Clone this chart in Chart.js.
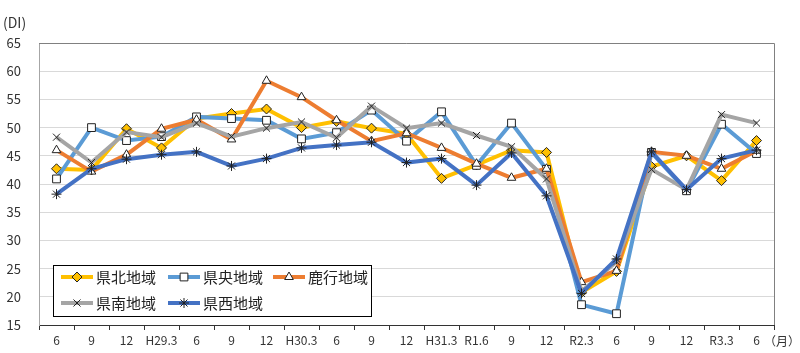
<!DOCTYPE html>
<html>
<head>
<meta charset="utf-8">
<script src="https://cdn.jsdelivr.net/npm/chart.js@4/dist/chart.umd.min.js"></script>
<style>
  html, body { margin: 0; padding: 0; background: #fff; }
  #wrap { width: 800px; height: 353px; }
</style>
</head>
<body>
<div id="wrap"><canvas id="diChart" width="800" height="353"></canvas></div>
<script>
// categories and series (DI)
const labels = ["6", "9", "12", "H29.3", "6", "9", "12", "H30.3", "6", "9", "12", "H31.3", "R1.6", "9", "12", "R2.3", "6", "9", "12", "R3.3", "6"];
const seriesNames = ["県北地域", "県央地域", "鹿行地域", "県南地域", "県西地域"];

const kenpoku = [42.7, 42.5, 49.8, 46.4, 51.6, 52.5, 53.3, 50.0, 51.1, 49.9, 48.9, 41.0, 43.4, 46.0, 45.6, 20.8, 24.5, 43.1, 45.0, 40.6, 47.7];
const kenou   = [40.9, 50.0, 47.7, 48.4, 51.9, 51.6, 51.3, 48.0, 49.1, 53.1, 47.6, 52.8, 43.3, 50.8, 42.6, 18.6, 17.0, 45.6, 38.8, 50.6, 45.4];
const rokkou  = [46.0, 42.2, 45.2, 49.8, 51.4, 47.9, 58.3, 55.4, 51.3, 47.6, 49.0, 46.4, 43.6, 41.1, 42.7, 22.6, 24.6, 45.7, 45.0, 42.7, 45.9];
const kennan  = [48.3, 43.8, 49.2, 48.3, 50.8, 48.4, 49.9, 51.0, 48.2, 53.8, 49.9, 50.8, 48.6, 46.6, 40.9, 21.0, 26.2, 42.6, 39.0, 52.3, 50.8];
const kensei  = [38.2, 42.7, 44.4, 45.2, 45.7, 43.2, 44.5, 46.4, 46.9, 47.4, 43.8, 44.5, 39.8, 45.5, 37.9, 20.6, 26.7, 45.7, 39.0, 44.5, 46.0];

const yTicks = [15, 20, 25, 30, 35, 40, 45, 50, 55, 60, 65];

const colors = ["#FFC000", "#5B9BD5", "#ED7D31", "#A5A5A5", "#4472C4"];
const markers = ["rectRot", "rect", "triangle", "crossRot", "star"];
const markerFill = ["#FFC000", "#ffffff", "#ffffff", "#ffffff", "#ffffff"];
const markerSize = [5, 5.5, 5, 5, 5];
const values = [kenpoku, kenou, rokkou, kennan, kensei];

const FONT = "'Noto Sans CJK JP', 'Noto Sans', sans-serif";

const datasets = values.map((v, i) => ({
  label: seriesNames[i],
  data: v,
  borderColor: colors[i],
  borderWidth: 4,
  pointStyle: markers[i],
  pointRadius: markerSize[i],
  pointBackgroundColor: markerFill[i],
  pointBorderColor: "#222",
  pointBorderWidth: 1,
  tension: 0,
  order: 5 - i,
}));

// border on top/right, unit texts and the boxed legend inside the plot
const extras = {
  id: "extras",
  afterDraw(chart) {
    const ctx = chart.ctx;
    const a = chart.chartArea;
    ctx.save();
    ctx.strokeStyle = "#808080";
    ctx.lineWidth = 1;
    ctx.beginPath();
    ctx.moveTo(a.left, a.top + 0.5);
    ctx.lineTo(a.right + 0.5, a.top + 0.5);
    ctx.lineTo(a.right + 0.5, a.bottom);
    ctx.stroke();

    ctx.fillStyle = "#333";
    ctx.font = "14px " + FONT;
    ctx.textBaseline = "middle";
    ctx.textAlign = "left";
    ctx.fillText("(DI)", 3, 23);
    ctx.font = "12px " + FONT;
    ctx.fillText("（月）", 764, 341);

    // legend
    const bx = 53, by = 265, bw = 318, bh = 51;
    ctx.fillStyle = "#fff";
    ctx.fillRect(bx, by, bw, bh);
    ctx.strokeStyle = "#000";
    ctx.strokeRect(bx + 0.5, by + 0.5, bw, bh);
    const cols = [61, 168, 273];
    const rows = [277, 303];
    chart.data.datasets.forEach((ds, i) => {
      const x = cols[i % 3], y = rows[Math.floor(i / 3)];
      ctx.strokeStyle = ds.borderColor;
      ctx.lineWidth = 4;
      ctx.beginPath();
      ctx.moveTo(x, y);
      ctx.lineTo(x + 32, y);
      ctx.stroke();
      if (Chart.helpers && Chart.helpers.drawPoint) {
        ctx.fillStyle = ds.pointBackgroundColor;
        ctx.strokeStyle = ds.pointBorderColor;
        ctx.lineWidth = 1;
        Chart.helpers.drawPoint(ctx, { pointStyle: ds.pointStyle, radius: ds.pointRadius, rotation: 0, borderWidth: 1 }, x + 16, y);
      }
      ctx.fillStyle = "#222";
      ctx.font = "15px " + FONT;
      ctx.textAlign = "left";
      ctx.fillText(ds.label, x + 35, y);
    });
    ctx.restore();
  },
};

new Chart(document.getElementById("diChart"), {
  type: "line",
  data: { labels: labels, datasets: datasets },
  options: {
    responsive: false,
    animation: false,
    layout: { padding: { left: 0, right: 26, top: 43, bottom: 0 } },
    plugins: {
      legend: { display: false },
      tooltip: { enabled: false },
    },
    scales: {
      x: {
        offset: true,
        grid: {
          offset: true,
          drawOnChartArea: false,
          drawTicks: true,
          tickLength: 5,
          color: "#333",
        },
        border: { color: "#333", width: 1 },
        ticks: {
          color: "#333",
          font: { size: 12, family: FONT },
          padding: 3,
          maxRotation: 0,
          autoSkip: false,
        },
        afterFit(scale) { scale.height = 28; },
      },
      y: {
        min: 15,
        max: 65,
        afterBuildTicks(scale) { scale.ticks = yTicks.map(v => ({ value: v })); },
        grid: { color: "#d9d9d9", drawTicks: false },
        border: { color: "#a6a6a6", width: 1 },
        ticks: {
          color: "#333",
          font: { size: 13, family: FONT },
          padding: 18,
        },
        afterFit(scale) { scale.width = 39; },
      },
    },
  },
  plugins: [extras],
});
</script>
</body>
</html>
